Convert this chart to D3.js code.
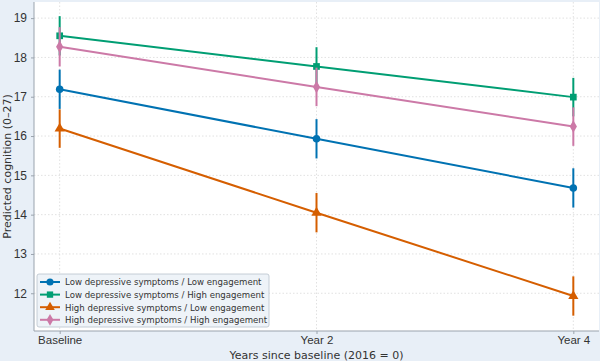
<!DOCTYPE html>
<meta charset="utf-8">
<head>
    <meta charset="utf-8">
    <title>Predicted cognition</title>
    <script src="https://d3js.org/d3.v7.min.js" charset="utf-8"></script>
    <style>
        html, body { margin: 0; padding: 0; background: #e8eff7; }
        svg { display: block; font-family: "DejaVu Sans", sans-serif; }
        .grid line { stroke: #d9d9d9; stroke-dasharray: 1.5,2; stroke-width: 0.8; }
        .axis path, .axis line { stroke: #9aa3ad; }
        .axis text { fill: #333; font-size: 12px; }
        .x-axis text { font-size: 11.5px; }
        .line { fill: none; stroke-width: 2px; }
        .err { stroke-width: 2px; }
    </style>
</head>
<body>
<svg width="600" height="361"></svg>
<script>

// data
var timepoints = [0, 2, 4];
var tickLabels = ["Baseline", "Year 2", "Year 4"];
var groupNames = [
    "Low depressive symptoms / Low engagement",
    "Low depressive symptoms / High engagement",
    "High depressive symptoms / Low engagement",
    "High depressive symptoms / High engagement"
];
var lowLow   = [17.19, 15.93, 14.68];
var lowHigh  = [18.55, 17.77, 16.99];
var highLow  = [16.19, 14.05, 11.93];
var highHigh = [18.27, 17.25, 16.24];
var errLowLow   = [0.50, 0.50, 0.50];
var errLowHigh  = [0.50, 0.49, 0.49];
var errHighLow  = [0.49, 0.50, 0.50];
var errHighHigh = [0.50, 0.49, 0.49];
var yTicks = [12, 13, 14, 15, 16, 17, 18, 19];

var colors = ["#0072B2", "#009E73", "#D55E00", "#CC79A7"];
var symbols = [d3.symbolCircle, d3.symbolSquare, d3.symbolTriangle, d3.symbolDiamond];

var series = [lowLow, lowHigh, highLow, highHigh].map(function (vals, i) {
    var errs = [errLowLow, errLowHigh, errHighLow, errHighHigh][i];
    return {
        name: groupNames[i],
        color: colors[i],
        symbol: symbols[i],
        values: vals.map(function (v, j) { return {t: timepoints[j], v: v, e: errs[j]}; })
    };
});

var svg = d3.select("svg"),
    margin = {top: 2, right: 1, bottom: 30, left: 34},
    width = +svg.attr("width") - margin.left - margin.right,
    height = +svg.attr("height") - margin.top - margin.bottom;

var x = d3.scaleLinear().domain([-0.2, 4.2]).range([0, width]);
var y = d3.scaleLinear().domain([11.04, 19.41]).range([height, 0]);

var g = svg.append("g")
    .attr("transform", "translate(" + margin.left + "," + margin.top + ")");

g.append("rect")
    .attr("width", width)
    .attr("height", height)
    .attr("fill", "#fff");

// grid
g.append("g").attr("class", "grid")
    .selectAll("line").data(yTicks).join("line")
    .attr("x1", 0).attr("x2", width)
    .attr("y1", d => y(d)).attr("y2", d => y(d));
g.append("g").attr("class", "grid")
    .selectAll("line").data(timepoints).join("line")
    .attr("y1", 0).attr("y2", height)
    .attr("x1", d => x(d)).attr("x2", d => x(d));

// axes
g.append("g")
    .attr("class", "axis")
    .call(d3.axisLeft(y).tickValues(yTicks).tickFormat(d3.format("d")).tickSize(3).tickPadding(4))
    .call(a => a.select(".domain").attr("d", "M0," + height + "V0"));

g.append("g")
    .attr("class", "axis x-axis")
    .attr("transform", "translate(0," + height + ")")
    .call(d3.axisBottom(x).tickValues(timepoints).tickFormat((d, i) => tickLabels[i]).tickSize(3).tickPadding(2))
    .call(a => a.select(".domain").attr("d", "M0,0H" + width));

// labels
svg.append("text")
    .attr("x", margin.left + width / 2)
    .attr("y", 358.5)
    .attr("text-anchor", "middle")
    .attr("fill", "#333")
    .style("font-size", "11px")
    .text("Years since baseline (2016 = 0)");

svg.append("text")
    .attr("transform", "translate(11," + (margin.top + height / 2) + ") rotate(-90)")
    .attr("text-anchor", "middle")
    .attr("fill", "#333")
    .style("font-size", "11px")
    .text("Predicted cognition (0–27)");

var line = d3.line()
    .x(d => x(d.t))
    .y(d => y(d.v));

var sg = g.selectAll(".series").data(series).join("g").attr("class", "series");

sg.append("path")
    .attr("class", "line")
    .attr("stroke", d => d.color)
    .attr("d", d => line(d.values));

sg.selectAll(".err").data(d => d.values.map(p => Object.assign({c: d.color}, p))).join("line")
    .attr("class", "err")
    .attr("stroke", d => d.c)
    .attr("x1", d => x(d.t)).attr("x2", d => x(d.t))
    .attr("y1", d => y(d.v - d.e)).attr("y2", d => y(d.v + d.e));

sg.selectAll(".mark").data(d => d.values.map(p => Object.assign({c: d.color, s: d.symbol}, p))).join("path")
    .attr("class", "mark")
    .attr("fill", d => d.c)
    .attr("transform", d => "translate(" + x(d.t) + "," + y(d.v) + ")")
    .attr("d", d => d3.symbol().type(d.s).size(45)());

// legend
var legend = g.append("g")
    .attr("transform", "translate(3," + (height - 57) + ")");

legend.append("rect")
    .attr("width", 232)
    .attr("height", 53)
    .attr("rx", 2)
    .attr("fill", "#eef3f8")
    .attr("stroke", "#b8c2cc")
    .attr("stroke-width", 0.8);

var li = legend.selectAll(".li").data(series).join("g")
    .attr("class", "li")
    .attr("transform", (d, i) => "translate(3," + (8 + i * 12.6) + ")");

li.append("line")
    .attr("x1", 0).attr("x2", 20)
    .attr("stroke", d => d.color)
    .attr("stroke-width", 2);

li.append("path")
    .attr("transform", "translate(10,0)")
    .attr("fill", d => d.color)
    .attr("d", d => d3.symbol().type(d.symbol).size(40)());

li.append("text")
    .attr("x", 25)
    .attr("y", 3.3)
    .attr("fill", "#333")
    .style("font-size", "8.6px")
    .text(d => d.name);

</script>
</body>
</html>
